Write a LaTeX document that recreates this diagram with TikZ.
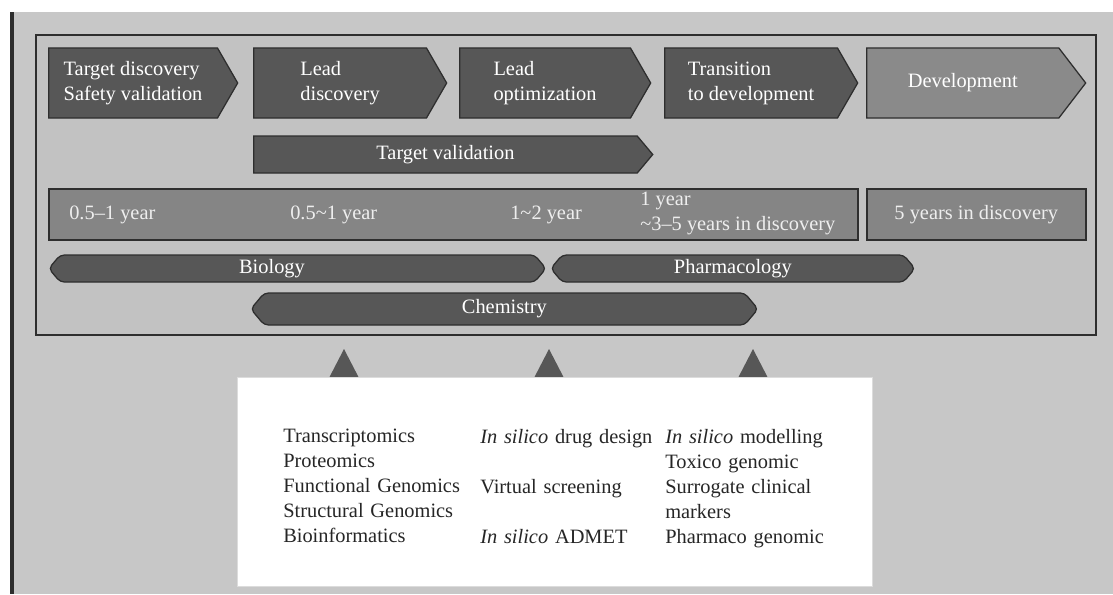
\documentclass[tikz,border=0pt]{standalone}
\usepackage{fontspec}
\setmainfont{Liberation Serif}
\usetikzlibrary{shapes.symbols}

\definecolor{bggrey}{HTML}{C7C7C7}
\definecolor{boxgrey}{HTML}{C2C2C2}
\definecolor{darkfill}{HTML}{575757}
\definecolor{darkline}{HTML}{2E2E2E}
\definecolor{midfill}{HTML}{8A8A8A}
\definecolor{yearfill}{HTML}{858585}
\definecolor{yeartxt}{HTML}{EEEEEE}
\definecolor{paleline}{HTML}{DCDCDC}

\tikzset{
  phase/.style={signal,signal to=east,signal pointer angle=120,
    fill=darkfill,draw=darkline,line width=0.9pt,text=white,
    align=left,inner sep=0pt,minimum height=1.75cm,anchor=west},
  yearbox/.style={rectangle,fill=yearfill,draw=darkline,line width=1.1pt,
    text=yeartxt,inner sep=0pt,minimum height=1.275cm,anchor=west},
  yeartext/.style={text=yeartxt,align=left,inner sep=0pt,anchor=west},
  discipline/.style={signal,signal to=east and west,signal pointer angle=100,
    rounded corners=3pt,fill=darkfill,draw=darkline,line width=0.9pt,
    text=white,inner sep=0pt,minimum height=0.675cm,anchor=west},
  tooltext/.style={text=black!85,align=left,inner sep=0pt,anchor=north west}
}

\begin{document}
\begin{tikzpicture}[x=0.025cm,y=-0.025cm,font=\fontsize{14.5}{17.8}\selectfont]
 \useasboundingbox (0,0) rectangle (1113,594);
 % frame and panels
 \fill[bggrey] (14,12) rectangle (1113,594);
 \draw[darkline,line width=3pt] (12,12) -- (12,594);
 \draw[darkline,fill=boxgrey,line width=1.5pt] (36,35) rectangle (1096,335);

 % phases
 \node[phase,minimum width=4.725cm] (tdisc) at (48,83) {Target discovery\\Safety validation};
 \node[phase,minimum width=4.825cm] (ldisc) at (253,83) {Lead\\discovery};
 \node[phase,minimum width=4.775cm] (lopt) at (459,83) {Lead\\optimization};
 \node[phase,minimum width=4.825cm] (trans) at (664,83) {Transition\\to development};
 \node[phase,fill=midfill,signal pointer angle=105,minimum width=5.475cm] (devel) at (866,83) {Development};
 \node[phase,signal pointer angle=100,minimum height=0.925cm,minimum width=9.975cm] (tval) at (253,154.5) {Target validation};

 % durations
 \node[yearbox,minimum width=20.225cm] (yrdisc) at (48,214.5) {};
 \node[yearbox,minimum width=5.475cm] (yrdev) at (866,214.5) {5 years in discovery};
 \node[yeartext] (yrtd) at (69,214.5) {0.5–1 year};
 \node[yeartext] (yrld) at (290,214.5) {0.5\textasciitilde1 year};
 \node[yeartext] (yrlo) at (510,214.5) {1\textasciitilde2 year};
 \node[yeartext] (yrtr) at (640,213.5) {1 year\\\textasciitilde3–5 years in discovery};

 % disciplines
 \node[discipline,minimum width=12.425cm] (bio) at (48,268.5) {};
 \node[text=white,inner sep=0pt] (biolbl) at (272,268.5) {Biology};
 \node[discipline,minimum width=9.1cm] (pharm) at (550,268.5) {Pharmacology};
 \node[discipline,minimum height=0.8cm,minimum width=12.675cm] (chem) at (250,309) {Chemistry};

 % pointers
 \fill[darkfill] (344,349) -- (359,378) -- (329,378) -- cycle;
 \fill[darkfill] (549,349) -- (564,378) -- (534,378) -- cycle;
 \fill[darkfill] (753,349) -- (768,378) -- (738,378) -- cycle;

 % tools
 \draw[paleline,fill=white] (237,377) rectangle (872,586);
 \node[tooltext,text width=4.9cm] (omics) at (283,429) {Transcriptomics\\Proteomics\\Functional Genomics\\Structural Genomics\\Bioinformatics};
 \node[tooltext,text width=4.6cm] (design) at (480,429) {\textit{In silico} drug design\\~\\Virtual screening\\~\\\textit{In silico} ADMET};
 \node[tooltext,text width=5.2cm] (clinic) at (665,429) {\textit{In silico} modelling\\Toxico genomic\\Surrogate clinical\\markers\\Pharmaco genomic};
\end{tikzpicture}
\end{document}
